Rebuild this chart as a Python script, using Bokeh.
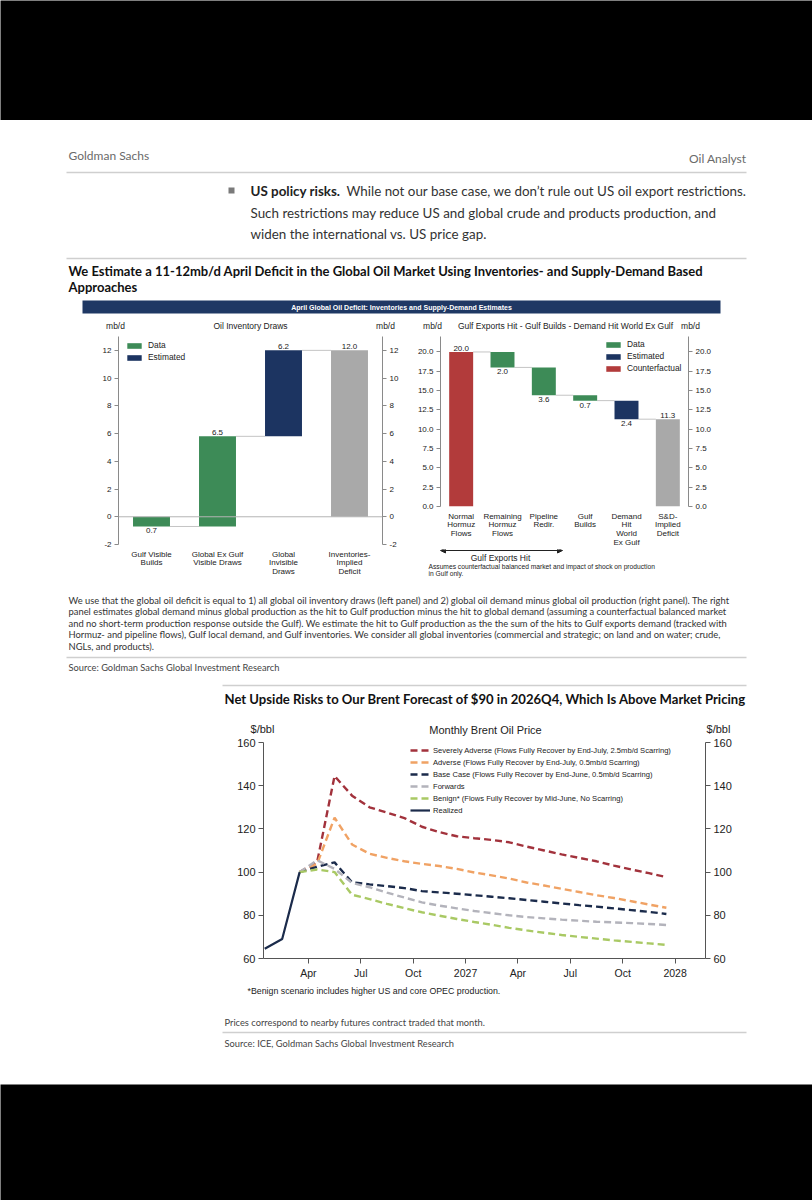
from bokeh.plotting import figure
from bokeh.layouts import column, row
from bokeh.models import (Range1d, FixedTicker, LinearAxis, Span, Arrow, NormalHead,
                          PrintfTickFormatter, ColumnDataSource)
from bokeh.core.properties import value
from bokeh.embed import file_html
from bokeh.resources import INLINE

# ---------------- data ----------------
inv_labels = ["Gulf Visible\nBuilds", "Global Ex Gulf\nVisible Draws", "Global\nInvisible\nDraws",
              "Inventories-\nImplied\nDeficit"]
inv_values = [-0.7, 6.5, 6.2, 12.0]
inv_kinds = ["Data", "Data", "Estimated", "Total"]
inv_ticks = [-2, 0, 2, 4, 6, 8, 10, 12]

sd_labels = ["Normal\nHormuz\nFlows", "Remaining\nHormuz\nFlows", "Pipeline\nRedir.", "Gulf\nBuilds",
             "Demand\nHit\nWorld\nEx Gulf", "S&D-\nImplied\nDeficit"]
sd_values = [20.0, -2.0, -3.6, -0.7, -2.4, 11.3]
sd_kinds = ["Counterfactual", "Data", "Data", "Data", "Estimated", "Total"]
sd_ticks = [0, 2.5, 5, 7.5, 10, 12.5, 15, 17.5, 20]

realized_months = ["2026-01", "2026-02", "2026-03"]
realized = [64.5, 69.0, 100.0]
scenario_months = ["2026-03", "2026-04", "2026-05", "2026-06", "2026-07", "2026-08", "2026-09",
                   "2026-10", "2026-11", "2026-12", "2027-01", "2027-02", "2027-03", "2027-04",
                   "2027-05", "2027-06", "2027-07", "2027-08", "2027-09", "2027-10", "2027-11", "2027-12"]
severe = [100.0, 104.6, 144.5, 135.4, 130.0, 127.5, 125.0, 121.0, 118.5, 116.6, 115.7, 114.9,
          113.8, 111.8, 110.0, 108.2, 106.6, 105.0, 103.0, 101.2, 99.5, 97.7]
adverse = [100.0, 103.8, 125.2, 112.8, 108.5, 106.6, 105.0, 103.8, 102.8, 101.5, 99.8, 98.5,
           97.0, 95.2, 93.8, 92.3, 90.8, 89.3, 88.0, 86.5, 85.0, 83.5]
base = [100.0, 102.5, 104.5, 95.3, 94.3, 93.5, 92.6, 91.2, 90.6, 90.0, 89.3, 88.6,
        87.9, 87.1, 86.3, 85.5, 84.7, 84.0, 83.2, 82.4, 81.6, 80.6]
forwards = [100.0, 105.5, 101.5, 95.0, 93.0, 90.5, 88.2, 86.0, 84.5, 83.2, 82.0, 81.0,
            80.0, 79.2, 78.6, 78.0, 77.5, 77.0, 76.7, 76.4, 76.0, 75.5]
benign = [100.0, 101.2, 100.0, 89.5, 87.5, 85.3, 83.3, 81.4, 79.8, 78.3, 76.9, 75.6,
          74.2, 73.0, 71.9, 70.9, 70.0, 69.2, 68.4, 67.7, 67.0, 66.3]
series_names = ["Severely Adverse (Flows Fully Recover by End-July, 2.5mb/d Scarring)",
                "Adverse (Flows Fully Recover by End-July, 0.5mb/d Scarring)",
                "Base Case (Flows Fully Recover by End-June, 0.5mb/d Scarring)",
                "Forwards",
                "Benign* (Flows Fully Recover by Mid-June, No Scarring)",
                "Realized"]
x_tick_pos = [3, 6, 9, 12, 15, 18, 21, 24]
x_tick_labels = ["Apr", "Jul", "Oct", "2027", "Apr", "Jul", "Oct", "2028"]
price_ticks = [60, 80, 100, 120, 140, 160]

paragraph = [
    "We use that the global oil deficit is equal to 1) all global oil inventory draws (left panel) and 2) global oil demand minus global oil production (right panel). The right",
    "panel estimates global demand minus global production as the hit to Gulf production minus the hit to global demand (assuming a counterfactual balanced market",
    "and no short-term production response outside the Gulf). We estimate the hit to Gulf production as the the sum of the hits to Gulf exports demand (tracked with",
    "Hormuz- and pipeline flows), Gulf local demand, and Gulf inventories. We consider all global inventories (commercial and strategic; on land and on water; crude,",
    "NGLs, and products).",
]

# ---------------- style ----------------
PAGE_W = 812
DOC = "Lato"
CHART = "Liberation Sans"
COL = {"Data": "#3d8b57", "Estimated": "#1c3461", "Counterfactual": "#b23b3b", "Total": "#a9a9a9"}
LINE_COL = ["#a2323c", "#f0a264", "#1b2b4b", "#b3b3bb", "#a9c964", "#1b2b4b"]


def block(y0, y1, x0=0, x1=PAGE_W, bg="white"):
    p = figure(width=int(x1 - x0), height=int(y1 - y0), x_range=Range1d(x0, x1), y_range=Range1d(y1, y0),
               output_backend="svg", toolbar_location=None, x_axis_location=None, y_axis_location=None,
               min_border=0, outline_line_color=None, background_fill_color=bg, border_fill_color=bg)
    p.grid.visible = False
    return p


def put(p, x, y, s, size, font=DOC, color="#333333", style="normal", align="left"):
    p.text(x=[x], y=[y], text=[s], text_font=value(font), text_font_size=f"{size}px",
           text_color=color, text_font_style=style, text_align=align, text_baseline="middle")


def rule(p, x0, x1, y, color="#cfcfcf", w=1.5):
    p.segment(x0=[x0], y0=[y], x1=[x1], y1=[y], line_color=color, line_width=w)


def style_axis(ax, size="8px"):
    ax.axis_line_color = "#8a8a8a"
    ax.major_tick_line_color = "#8a8a8a"
    ax.minor_tick_line_color = None
    ax.major_tick_out = 4
    ax.major_tick_in = 0
    ax.major_label_text_font = CHART
    ax.major_label_text_font_size = size
    ax.major_label_text_color = "#222222"
    ax.major_label_standoff = 3


def waterfall_panel(width, height, labels, values, kinds, ticks, yr, fmt, bar_w, borders, legend_xy):
    n = len(labels)
    xs = list(range(1, n + 1))
    bottoms, tops, ends = [], [], []
    cum = 0.0
    for v, k in zip(values, kinds):
        if k in ("Total", "Counterfactual"):
            b, t = 0.0, v
            cum = v
        else:
            b, t = min(cum, cum + v), max(cum, cum + v)
            cum += v
        bottoms.append(b)
        tops.append(t)
        ends.append(cum)
    left, right, top, bottom = borders
    p = figure(width=width, height=height, x_range=Range1d(0.5, n + 0.5), y_range=Range1d(*yr),
               output_backend="svg", toolbar_location=None, min_border_left=left,
               min_border_right=right, min_border_top=top, min_border_bottom=bottom,
               outline_line_color=None)
    p.grid.visible = False
    p.segment(x0=[x + bar_w / 2 for x in xs[:-1]], x1=[x + 1 - bar_w / 2 for x in xs[:-1]],
              y0=ends[:-1], y1=ends[:-1], line_color="#c4c4c4", line_width=1)
    for kind in ["Data", "Estimated", "Counterfactual", "Total"]:
        idx = [i for i, k in enumerate(kinds) if k == kind]
        if not idx:
            continue
        src = ColumnDataSource(dict(x=[xs[i] for i in idx], b=[bottoms[i] for i in idx],
                                    t=[tops[i] for i in idx]))
        kw = {} if kind == "Total" else {"legend_label": kind}
        p.vbar(x="x", bottom="b", top="t", width=bar_w, source=src, fill_color=COL[kind],
               line_color=None, **kw)
    up = [i for i, v in enumerate(values) if v >= 0]
    dn = [i for i, v in enumerate(values) if v < 0]
    p.text(x=[xs[i] for i in up], y=[tops[i] for i in up], text=[f"{abs(values[i]):.1f}" for i in up],
           text_font=value(CHART), text_font_size="8px", text_color="#222222", text_align="center",
           text_baseline="bottom", y_offset=-1)
    p.text(x=[xs[i] for i in dn], y=[bottoms[i] for i in dn], text=[f"{abs(values[i]):.1f}" for i in dn],
           text_font=value(CHART), text_font_size="8px", text_color="#222222", text_align="center",
           text_baseline="top", y_offset=2)
    p.xaxis.ticker = FixedTicker(ticks=xs)
    p.xaxis.major_label_overrides = {x: lab for x, lab in zip(xs, labels)}
    style_axis(p.xaxis[0])
    p.xaxis.axis_line_color = None
    p.xaxis.major_tick_line_color = None
    p.xaxis.major_label_standoff = 1
    p.xaxis.major_label_text_line_height = 0.98
    p.yaxis.ticker = FixedTicker(ticks=ticks)
    p.yaxis.formatter = PrintfTickFormatter(format=fmt)
    style_axis(p.yaxis[0])
    ax_r = LinearAxis(ticker=FixedTicker(ticks=ticks), formatter=PrintfTickFormatter(format=fmt))
    style_axis(ax_r)
    p.add_layout(ax_r, "right")
    lg = p.legend[0]
    lg.location = legend_xy
    lg.padding = 0
    lg.margin = 0
    lg.spacing = 0
    lg.label_height = 12
    lg.glyph_height = 7
    lg.glyph_width = 18
    lg.label_standoff = 5
    lg.label_text_font = CHART
    lg.label_text_font_size = "8.4px"
    lg.label_text_color = "#222222"
    lg.background_fill_alpha = 0
    lg.border_line_color = None
    return p


# ---------------- page pieces ----------------
band_top = block(0, 120, bg="black")

hb = block(120, 333)
put(hb, 68, 155, "Goldman Sachs", 12, color="#6a6a6a")
put(hb, 746, 158, "Oil Analyst", 12, color="#6a6a6a", align="right")
rule(hb, 66, 746, 172)
hb.scatter(x=[231], y=[190], marker="square", size=6, fill_color="#7a7a7a", line_color=None)
put(hb, 250, 190, "US policy risks.", 13.4, color="#222222", style="bold")
put(hb, 346, 190, "While not our base case, we don’t rule out US oil export restrictions.", 13.4)
put(hb, 250, 212, "Such restrictions may reduce US and global crude and products production, and", 13.4)
put(hb, 250, 233, "widen the international vs. US price gap.", 13.4)
rule(hb, 66, 746, 258)
put(hb, 68, 270, "We Estimate a 11-12mb/d April Deficit in the Global Oil Market Using Inventories- and Supply-Demand Based",
    13, color="#111111", style="bold")
put(hb, 68, 286, "Approaches", 13, color="#111111", style="bold")
hb.quad(left=[82], right=[720], top=[300], bottom=[313], fill_color="#1f3864", line_color=None)
put(hb, 401, 306.5, "April Global Oil Deficit: Inventories and Supply-Demand Estimates", 7, font=CHART,
    color="white", style="bold", align="center")
for (x, s) in [(115, "mb/d"), (250, "Oil Inventory Draws"), (385, "mb/d"), (432, "mb/d"),
               (565, "Gulf Exports Hit - Gulf Builds - Demand Hit World Ex Gulf"), (690, "mb/d")]:
    put(hb, x, 325, s, 8.5, font=CHART, color="#222222", align="center")

left_panel = waterfall_panel(405, 247, inv_labels, inv_values, inv_kinds, inv_ticks, (-2, 13), "%d", 0.56,
                             (118, 23, 3, 36), (7, 181))
left_panel.add_layout(Span(location=0, dimension="width", line_color="#b5b5b5", line_width=1))

right_panel = waterfall_panel(407, 216, sd_labels, sd_values, sd_kinds, sd_ticks, (0, 22), "%.1f", 0.58,
                              (35, 124, 3, 42), (164, 132))

rb = block(549, 580, x0=405, x1=812)
rb.add_layout(Arrow(x_start=440, y_start=550, x_end=562, y_end=550, line_color="#222222", line_width=1,
                    start=NormalHead(size=5, fill_color="#222222", line_color="#222222"),
                    end=NormalHead(size=5, fill_color="#222222", line_color="#222222")))
put(rb, 500, 557, "Gulf Exports Hit", 8.5, font=CHART, color="#222222", align="center")
put(rb, 428, 566, "Assumes counterfactual balanced market and impact of shock on production", 6.7,
    font=CHART, color="#222222")
put(rb, 428, 573, "in Gulf only.", 6.7, font=CHART, color="#222222")

pb = block(580, 736)
for i, line in enumerate(paragraph):
    put(pb, 68, 600 + i * 11.4, line, 9.4)
rule(pb, 66, 746, 657)
put(pb, 68, 667, "Source: Goldman Sachs Global Investment Research", 9.3, color="#444444")
rule(pb, 222, 746, 685)
put(pb, 224, 698, "Net Upside Risks to Our Brent Forecast of $90 in 2026Q4, Which Is Above Market Pricing",
    13.1, color="#111111", style="bold")
put(pb, 262, 728, "$/bbl", 11, font=CHART, color="#222222", align="center")
put(pb, 485, 729, "Monthly Brent Oil Price", 11, font=CHART, color="#222222", align="center")
put(pb, 718, 728, "$/bbl", 11, font=CHART, color="#222222", align="center")


def mx(s):
    y, m = map(int, s.split("-"))
    return (y - 2026) * 12 + m - 1 + 0.5


ch = figure(width=PAGE_W, height=246, x_range=Range1d(0.43, 25.74), y_range=Range1d(60, 160),
            output_backend="svg", toolbar_location=None, min_border_left=263, min_border_right=107,
            min_border_top=6, min_border_bottom=24, outline_line_color=None)
ch.grid.visible = False
sx = [mx(s) for s in scenario_months]
for name, ys, col in zip(series_names[:5], [severe, adverse, base, forwards, benign], LINE_COL[:5]):
    ch.line(x=sx, y=ys, line_color=col, line_width=2.4, line_dash="7 4", legend_label=name)
ch.line(x=[mx(s) for s in realized_months], y=realized, line_color=LINE_COL[5], line_width=2.2,
        legend_label=series_names[5])
for ax in (ch.xaxis[0], ch.yaxis[0]):
    style_axis(ax, "11px")
    ax.axis_line_color = "#555555"
    ax.major_tick_line_color = "#555555"
    ax.major_tick_out = 5
ch.xaxis.ticker = FixedTicker(ticks=x_tick_pos)
ch.xaxis.major_label_overrides = {t: s for t, s in zip(x_tick_pos, x_tick_labels)}
ch.xaxis.major_label_text_font_size = "10.5px"
ch.yaxis.ticker = FixedTicker(ticks=price_ticks)
ax2 = LinearAxis(ticker=FixedTicker(ticks=price_ticks))
style_axis(ax2, "11px")
ax2.axis_line_color = "#555555"
ax2.major_tick_line_color = "#555555"
ax2.major_tick_out = 5
ch.add_layout(ax2, "right")
lg = ch.legend[0]
lg.location = (147, 142)
lg.padding = 0
lg.margin = 0
lg.spacing = 0
lg.label_height = 12
lg.glyph_height = 12
lg.glyph_width = 20
lg.label_standoff = 3
lg.label_text_font = CHART
lg.label_text_font_size = "7.6px"
lg.label_text_color = "#222222"
lg.background_fill_alpha = 0
lg.border_line_color = None

gb = block(982, 1084)
put(gb, 247, 990, "*Benign scenario includes higher US and core OPEC production.", 8.8, font=CHART,
    color="#222222")
put(gb, 224, 1022, "Prices correspond to nearby futures contract traded that month.", 9.3, color="#444444")
rule(gb, 222, 746, 1032)
put(gb, 224, 1043, "Source: ICE, Goldman Sachs Global Investment Research", 9.3, color="#444444")

band_bottom = block(1084, 1200, bg="black")

page = column(band_top, hb,
              row(left_panel, column(row(right_panel), row(rb))),
              pb, row(ch), gb, band_bottom)

with open("out.html", "w") as f:
    f.write(file_html(page, INLINE))
